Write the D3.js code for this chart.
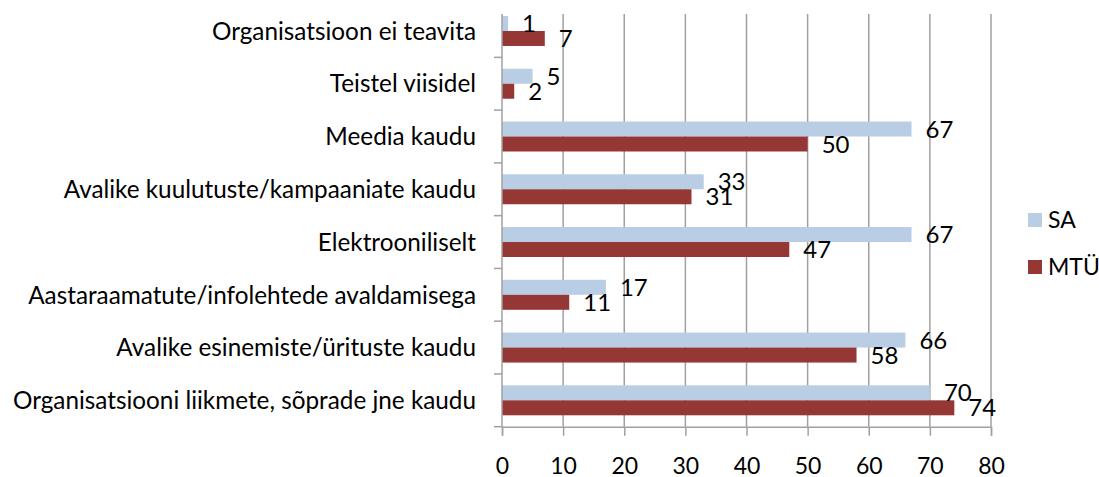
<html>
<head>
<script src="https://cdnjs.cloudflare.com/ajax/libs/d3/7.8.5/d3.min.js"></script>
<style>
  body { margin: 0; background: #fff; }
  text { font-family: Lato, "Open Sans", sans-serif; fill: #000; }
</style>
</head>
<body>
<script>
  var categories = [
    "Organisatsioon ei teavita",
    "Teistel viisidel",
    "Meedia kaudu",
    "Avalike kuulutuste/kampaaniate kaudu",
    "Elektrooniliselt",
    "Aastaraamatute/infolehtede avaldamisega",
    "Avalike esinemiste/ürituste kaudu",
    "Organisatsiooni liikmete, sõprade jne kaudu"
  ];
  var seriesNames = ["SA", "MTÜ"];
  var saValues  = [1, 5, 67, 33, 67, 17, 66, 70];
  var mtuValues = [7, 2, 50, 31, 47, 11, 58, 74];
  var xTicks = [0, 10, 20, 30, 40, 50, 60, 70, 80];

  var colors = { "SA": "#b9cde5", "MTÜ": "#953735" };
  var gridColor = "#a0a0a0";

  var width = 1099, height = 477;
  var plot = { left: 502, right: 991, top: 4.6, bottom: 426.7, gridTop: 14 };

  var svg = d3.select("body").append("svg")
      .attr("width", width)
      .attr("height", height);

  var x = d3.scaleLinear().domain([0, 80]).range([plot.left, plot.right]);
  var y0 = d3.scaleBand().domain(categories).range([plot.top, plot.bottom]).padding(0);
  var y1 = d3.scaleBand().domain(seriesNames).range([0, y0.bandwidth()])
      .paddingInner(0).paddingOuter(0.76);

  var rows = categories.map(function(c, i) {
    return { cat: c, values: [
      { name: "SA", value: saValues[i] },
      { name: "MTÜ", value: mtuValues[i] }
    ]};
  });

  // vertical gridlines
  svg.append("g").selectAll("line")
    .data(xTicks.slice(1))
    .enter().append("line")
      .attr("x1", function(d) { return x(d); })
      .attr("x2", function(d) { return x(d); })
      .attr("y1", plot.gridTop)
      .attr("y2", plot.bottom)
      .attr("stroke", gridColor)
      .attr("stroke-width", 1.5);

  // bars
  var groups = svg.append("g").selectAll("g")
    .data(rows)
    .enter().append("g")
      .attr("transform", function(d) { return "translate(0," + y0(d.cat) + ")"; });

  groups.selectAll("rect")
    .data(function(d) { return d.values; })
    .enter().append("rect")
      .attr("x", x(0))
      .attr("y", function(d) { return y1(d.name); })
      .attr("width", function(d) { return x(d.value) - x(0); })
      .attr("height", y1.bandwidth())
      .attr("fill", function(d) { return colors[d.name]; });

  // value labels, kept inside chart area
  var labelLimit = 999;
  groups.selectAll("text")
    .data(function(d) { return d.values; })
    .enter().append("text")
      .attr("y", function(d) { return y1(d.name) + y1.bandwidth() / 2; })
      .attr("dy", "0.36em")
      .attr("font-size", 24)
      .text(function(d) { return d.value; })
      .attr("x", function(d) {
        var w = this.getComputedTextLength();
        return Math.min(x(d.value) + 14, labelLimit - w);
      });

  // x axis
  var xAxis = svg.append("g")
      .attr("transform", "translate(0," + plot.bottom + ")")
      .call(d3.axisBottom(x).tickValues(xTicks).tickSize(9).tickPadding(22));
  xAxis.select(".domain").attr("stroke", gridColor).attr("stroke-width", 1.5);
  xAxis.selectAll(".tick line").attr("stroke", gridColor).attr("stroke-width", 1.5);
  xAxis.selectAll(".tick text")
      .attr("font-size", 23)
      .attr("font-family", "Lato, sans-serif")
      .attr("fill", "#000");

  // y axis line and category boundary ticks
  svg.append("line")
      .attr("x1", x(0)).attr("x2", x(0))
      .attr("y1", plot.gridTop).attr("y2", plot.bottom)
      .attr("stroke", gridColor).attr("stroke-width", 1.5);
  svg.append("g").selectAll("line")
    .data(categories)
    .enter().append("line")
      .attr("x1", x(0) - 8).attr("x2", x(0))
      .attr("y1", function(d) { return y0(d) + y0.bandwidth(); })
      .attr("y2", function(d) { return y0(d) + y0.bandwidth(); })
      .attr("stroke", gridColor).attr("stroke-width", 1.5);

  // category labels
  svg.append("g").selectAll("text")
    .data(categories)
    .enter().append("text")
      .attr("x", x(0) - 26)
      .attr("y", function(d) { return y0(d) + y0.bandwidth() / 2; })
      .attr("dy", "0.36em")
      .attr("text-anchor", "end")
      .attr("font-size", 24.3)
      .text(function(d) { return d; });

  // legend
  var legend = svg.append("g").selectAll("g")
    .data(seriesNames)
    .enter().append("g")
      .attr("transform", function(d, i) { return "translate(1028," + (213 + i * 47) + ")"; });
  legend.append("rect")
      .attr("width", 14).attr("height", 14)
      .attr("fill", function(d) { return colors[d]; });
  legend.append("text")
      .attr("x", 20).attr("y", 7)
      .attr("dy", "0.36em")
      .attr("font-size", 23)
      .text(function(d) { return d; });
</script>
</body>
</html>
